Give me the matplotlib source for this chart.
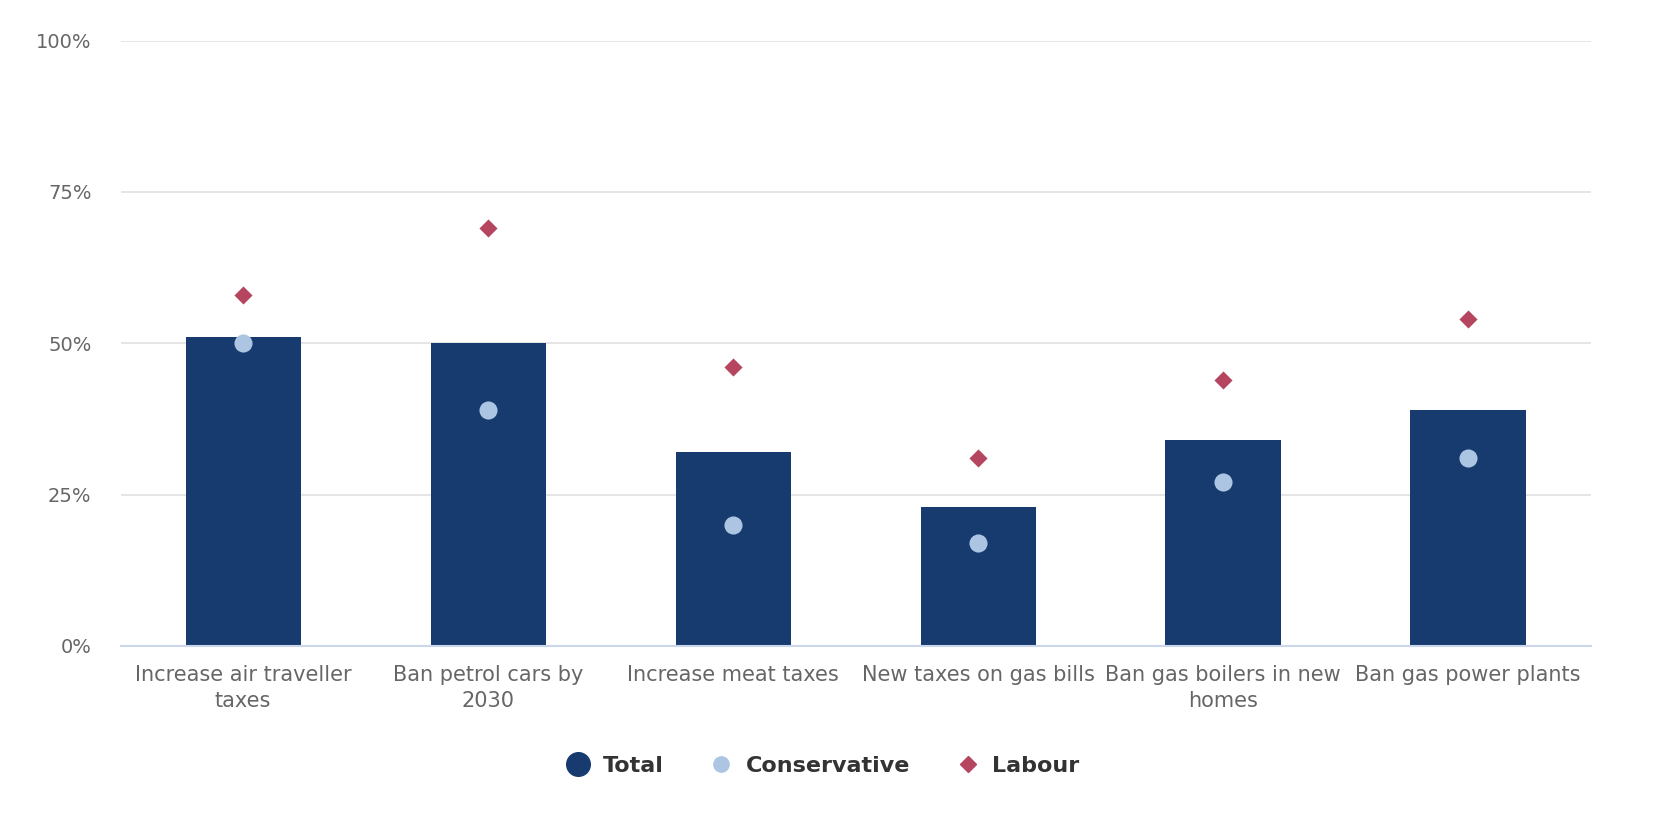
import numpy as np
import matplotlib
matplotlib.use("Agg")
import matplotlib.pyplot as plt
from matplotlib.ticker import FuncFormatter
from matplotlib.lines import Line2D

NAVY, LIGHT, RED = "#173b6e", "#abc5e3", "#b6455f"
TICK, GRID, BASE = "#666666", "#e3e3e3", "#ccd6eb"

plt.rcParams.update({"font.family": "DejaVu Sans"})

categories = ["Increase air traveller\ntaxes", "Ban petrol cars by\n2030",
              "Increase meat taxes", "New taxes on gas bills",
              "Ban gas boilers in new\nhomes", "Ban gas power plants"]
total = [51, 50, 32, 23, 34, 39]
conservative = [50, 39, 20, 17, 27, 31]
labour = [58, 69, 46, 31, 44, 54]

fig = plt.figure(figsize=(16.76, 8.18), dpi=100)
ax = fig.add_axes([0.072, 0.2105, 0.877, 0.7398])

x = np.arange(len(categories))
ax.bar(x, total, 0.47, color=NAVY, zorder=3)
ax.scatter(x, conservative, s=170, color=LIGHT, zorder=4, linewidths=0)
ax.scatter(x, labour, s=85, marker="D", color=RED, zorder=4, linewidths=0)

ax.set_xlim(-0.5, len(categories) - 0.5)
ax.set_ylim(0, 100)
ax.set_yticks([0, 25, 50, 75, 100])
ax.yaxis.set_major_formatter(FuncFormatter(lambda v, _: f"{int(v)}%"))
ax.grid(axis="y", color=GRID, linewidth=1.3, zorder=0)
ax.set_axisbelow(True)
for s in ("top", "right", "left"):
    ax.spines[s].set_visible(False)
ax.spines["bottom"].set_color(BASE)
ax.spines["bottom"].set_linewidth(1.5)
ax.spines["bottom"].set_zorder(5)
ax.tick_params(axis="y", length=0, labelsize=14, colors=TICK, pad=21)
ax.tick_params(axis="x", length=0, labelsize=15, colors=TICK, pad=14)
ax.set_xticks(x)
ax.set_xticklabels(categories, linespacing=1.35)
for lbl in ax.get_yticklabels():
    lbl.set_horizontalalignment("right")

# legend sits below the labels, centred under the plot
handles = [
    Line2D([], [], marker="o", linestyle="", markersize=17, color=NAVY),
    Line2D([], [], marker="o", linestyle="", markersize=11, color=LIGHT),
    Line2D([], [], marker="D", linestyle="", markersize=8, color=RED),
]
leg = fig.legend(handles, ["Total", "Conservative", "Labour"], loc="center",
                 bbox_to_anchor=(0.488, 0.064), ncol=3, frameon=False,
                 prop={"size": 16, "weight": "bold"}, handletextpad=0.1,
                 columnspacing=1.6)
for t in leg.get_texts():
    t.set_color("#333333")

fig.savefig("out.png", dpi=100, facecolor="white")
